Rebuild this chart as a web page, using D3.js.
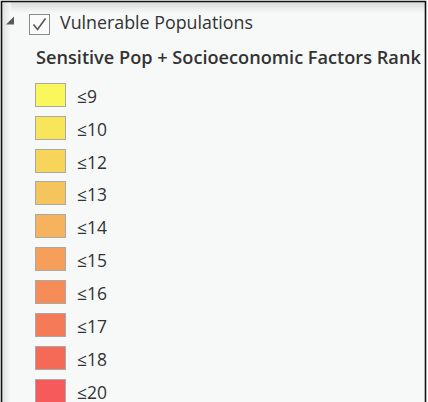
<!DOCTYPE html>
<html><head><meta charset="utf-8">
<script src="https://cdn.jsdelivr.net/npm/d3@7"></script>
<style>html,body{margin:0;padding:0;background:#fff;}svg{display:block;}</style>
</head><body>
<svg id="c" width="428" height="402"></svg>
<script>
const layerName = "Vulnerable Populations";
const fieldName = "Sensitive Pop + Socioeconomic Factors Rank";
const classLabels = ["≤9","≤10","≤12","≤13","≤14","≤15","≤16","≤17","≤18","≤20"];
const classColors = ["#f9f75c","#f8e55a","#f7d55b","#f6c45c","#f6b25c","#f59f5b","#f68d59","#f57a57","#f56a57","#f65a5a"];

const svg = d3.select("#c");
const W = 428, H = 402;
const font = "'Open Sans', 'Noto Sans', sans-serif";

const defs = svg.append("defs");
const gTop = defs.append("linearGradient").attr("id","gt").attr("x1",0).attr("y1",0).attr("x2",0).attr("y2",1);
gTop.append("stop").attr("offset",0).attr("stop-color","#d8dada");
gTop.append("stop").attr("offset",1).attr("stop-color","#f7f9f9");
const gLeft = defs.append("linearGradient").attr("id","gl").attr("x1",0).attr("y1",0).attr("x2",1).attr("y2",0);
gLeft.append("stop").attr("offset",0).attr("stop-color","#d8dada");
gLeft.append("stop").attr("offset",1).attr("stop-color","#f7f9f9");

svg.append("rect").attr("x",2).attr("y",2).attr("width",424).attr("height",H).attr("fill","#f7f9f9");
svg.append("rect").attr("x",2).attr("y",2).attr("width",424).attr("height",11).attr("fill","url(#gt)");
svg.append("rect").attr("x",2).attr("y",2).attr("width",9).attr("height",H).attr("fill","url(#gl)").attr("opacity",0.8);
svg.append("path").attr("d",`M1.5,${H} V1.5 H425.5 V${H}`).attr("fill","none").attr("stroke","#111").attr("stroke-width",1.6);

svg.append("path").attr("d","M14,16.5 L14,24.5 L6,24.5 Z").attr("fill","#595959");
svg.append("rect").attr("x",29.5).attr("y",14.5).attr("width",20).attr("height",20).attr("fill","#fbfbfb").attr("stroke","#8a8a8a").attr("stroke-width",1);
svg.append("path").attr("d","M33.5,24.5 L37.5,29.5 L45.5,18.5").attr("fill","none").attr("stroke","#555").attr("stroke-width",1.6);

function fit(sel, target){
  const n = sel.node(); const w = n.getComputedTextLength();
  const fs = parseFloat(sel.attr("font-size"));
  sel.attr("font-size", fs*target/w);
}
const t1 = svg.append("text").attr("x",60).attr("y",29).attr("font-family",font).attr("font-size",16)
  .attr("fill","#333").text(layerName);
fit(t1, 193);
const t2 = svg.append("text").attr("x",36).attr("y",64).attr("font-family",font).attr("font-size",16).attr("font-weight",600)
  .attr("fill","#333").text(fieldName);
fit(t2, 385);

const y = d3.scaleBand().domain(classLabels).range([82.7, 82.7+32.1*classLabels.length]).paddingInner(0.25).paddingOuter(0);
const color = d3.scaleOrdinal().domain(classLabels).range(classColors);

const probe = svg.append("text").attr("font-family",font).attr("font-size",16).text(classLabels[1]);
fit(probe, 30);
const labelSize = parseFloat(probe.attr("font-size"));
probe.remove();

const rows = svg.append("g").selectAll("g").data(classLabels).join("g");
rows.append("rect").attr("x",35.5).attr("y",d=>Math.round(y(d))+0.5).attr("width",30).attr("height",23)
  .attr("fill",d=>color(d)).attr("stroke","#a9a9a9").attr("stroke-width",1);
rows.append("text").attr("x",77).attr("y",d=>Math.round(y(d))+19.5).attr("font-family",font).attr("font-size",labelSize)
  .attr("fill","#333").text(d=>d);
</script>
</body></html>
